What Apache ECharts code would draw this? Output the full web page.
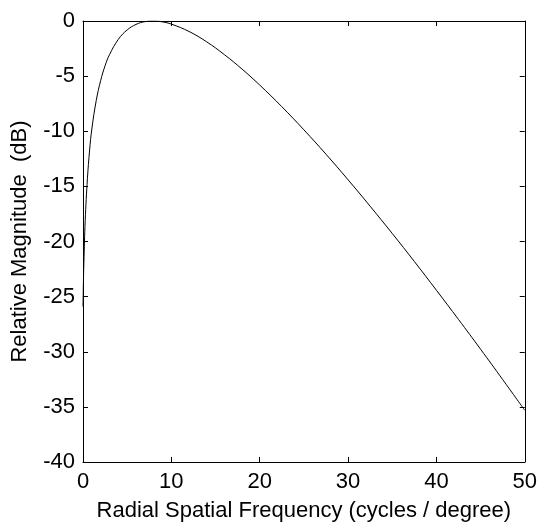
<!DOCTYPE html>
<html>
<head>
<meta charset="utf-8">
<script src="https://cdn.jsdelivr.net/npm/echarts@6/dist/echarts.min.js"></script>
<style>
html,body{margin:0;padding:0;background:#fff;}
#chart{width:540px;height:527px;}
</style>
</head>
<body>
<div id="chart"></div>
<script>
// Radial spatial frequency (cycles / degree)
var freq = [0, 0.05, 0.1, 0.25, 0.5, 0.75, 1, 1.5, 2, 2.5, 3, 4, 5, 6, 7, 8, 9, 10, 12, 14, 16, 18, 20, 22.5, 25, 27.5, 30, 32.5, 35, 37.5, 40, 42.5, 45, 47.5, 50];
// Relative magnitude (dB)
var magnitude = [-25.9, -23.6, -21.9, -18.1, -14.3, -11.7, -9.8, -7.2, -5.4, -4.05, -3.05, -1.66, -0.81, -0.31, -0.06, 0, -0.08, -0.28, -0.95, -1.89, -3.05, -4.36, -5.81, -7.77, -9.87, -12.08, -14.4, -16.8, -19.27, -21.81, -24.42, -27.07, -29.77, -32.52, -35.31];
var xTicks = [0, 10, 20, 30, 40, 50];
var yTicks = [-40, -35, -30, -25, -20, -15, -10, -5, 0];

var pts = freq.map(function (f, i) { return [f, magnitude[i]]; });
var font = 'Liberation Sans, Arial, Helvetica, sans-serif';
var axisLine = { show: true, onZero: false, lineStyle: { color: '#000', width: 1 } };
var tick = { show: true, inside: true, length: 5, lineStyle: { color: '#000', width: 1 } };

var chart = echarts.init(document.getElementById('chart'), null, { renderer: 'canvas' });
chart.setOption({
  animation: false,
  backgroundColor: '#fff',
  grid: { left: 83, right: 10, top: 21, bottom: 60, containLabel: false },
  xAxis: [{
    type: 'value', min: 0, max: 50, interval: 10, position: 'bottom',
    name: 'Radial Spatial Frequency (cycles / degree)', nameLocation: 'middle', nameGap: 38,
    nameTextStyle: { color: '#000', fontSize: 22, fontFamily: font },
    axisLine: axisLine, axisTick: tick, splitLine: { show: false },
    axisLabel: { color: '#000', fontSize: 22, fontFamily: font, margin: 9,
      formatter: function (v) { return xTicks.indexOf(v) >= 0 ? String(v) : ''; } }
  }, {
    type: 'value', min: 0, max: 50, interval: 10, position: 'top',
    axisLine: axisLine, axisTick: tick, splitLine: { show: false }, axisLabel: { show: false }
  }],
  yAxis: [{
    type: 'value', min: -40, max: 0, interval: 5, position: 'left',
    name: 'Relative Magnitude  (dB)', nameLocation: 'middle', nameGap: 52,
    nameTextStyle: { color: '#000', fontSize: 22, fontFamily: font },
    axisLine: axisLine, axisTick: tick, splitLine: { show: false },
    axisLabel: { color: '#000', fontSize: 22, fontFamily: font, margin: 8, padding: [0, 0, 0, 0], lineHeight: 26, verticalAlign: 'middle',
      formatter: function (v) { return yTicks.indexOf(v) >= 0 ? String(v) : ''; } }
  }, {
    type: 'value', min: -40, max: 0, interval: 5, position: 'right',
    axisLine: axisLine, axisTick: tick, splitLine: { show: false }, axisLabel: { show: false }
  }],
  series: [{
    type: 'line', data: pts, xAxisIndex: 0, yAxisIndex: 0,
    showSymbol: false, smooth: 0.4,
    lineStyle: { color: '#000', width: 1 }, clip: true
  }]
});
</script>
</body>
</html>
